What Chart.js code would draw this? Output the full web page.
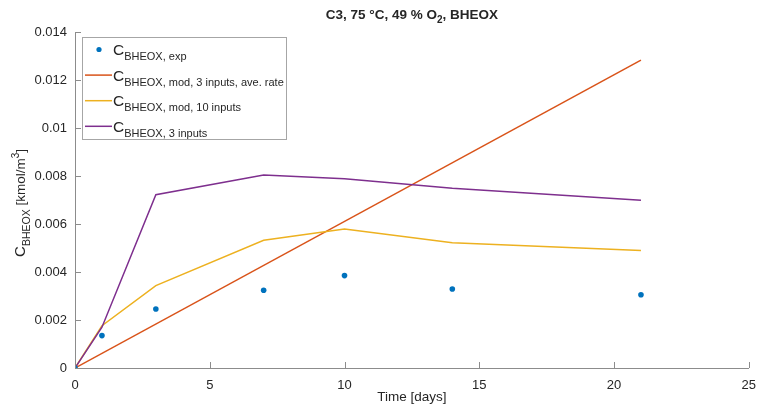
<!DOCTYPE html>
<html>
<head>
<meta charset="utf-8">
<title>BHEOX concentration</title>
<script src="https://cdn.jsdelivr.net/npm/chart.js@4.4.1/dist/chart.umd.min.js"></script>
<style>
  html, body { margin: 0; padding: 0; background: #fff; }
  #wrap { width: 758px; height: 412px; }
</style>
</head>
<body>
<div id="wrap"><canvas id="chart" width="758" height="412"></canvas></div>
<script>
// sampling days
const days = [0, 1, 3, 7, 10, 14, 21];

// measured concentration [kmol/m3]
const expValues = [0, 0.00135, 0.00246, 0.00324, 0.00385, 0.00329, 0.00305];

// model with average rate (straight line)
const aveRateDays = [0, 21];
const aveRateValues = [0, 0.01283];

// model, 10 inputs
const tenInputValues = [0, 0.00176, 0.00343, 0.00532, 0.00579, 0.00522, 0.0049];

// 3 inputs
const threeInputValues = [0, 0.0017, 0.00722, 0.00804, 0.00789, 0.00749, 0.00699];

const xTicks = [0, 5, 10, 15, 20, 25];
const yTicks = [0, 0.002, 0.004, 0.006, 0.008, 0.01, 0.012, 0.014];

const FONT = '"Liberation Sans", Arial, Helvetica, sans-serif';
const TEXT = '#262626';
const AXIS = '#8c8c8c';

const BLUE = '#0072BD';
const ORANGE = '#D95319';
const YELLOW = '#EDB120';
const PURPLE = '#7E2F8E';

function xy(xs, ys) {
  return xs.map((x, i) => ({ x: x, y: ys[i] }));
}

// text made of pieces, some lowered (subscript) or raised (superscript)
function runsWidth(ctx, runs) {
  let w = 0;
  runs.forEach(r => {
    ctx.font = (r.bold ? 'bold ' : '') + r.size + 'px ' + FONT;
    w += ctx.measureText(r.text).width;
  });
  return w;
}

function drawRuns(ctx, runs, x, y) {
  ctx.textAlign = 'left';
  ctx.textBaseline = 'alphabetic';
  runs.forEach(r => {
    ctx.font = (r.bold ? 'bold ' : '') + r.size + 'px ' + FONT;
    ctx.fillText(r.text, x, y + (r.dy || 0));
    x += ctx.measureText(r.text).width;
  });
  return x;
}

const legendItems = [
  { kind: 'dot', color: BLUE, label: 'BHEOX, exp' },
  { kind: 'line', color: ORANGE, label: 'BHEOX, mod, 3 inputs, ave. rate' },
  { kind: 'line', color: YELLOW, label: 'BHEOX, mod, 10 inputs' },
  { kind: 'line', color: PURPLE, label: 'BHEOX, 3 inputs' }
];

const decorations = {
  id: 'decorations',
  afterDraw(chart) {
    const ctx = chart.ctx;
    const area = chart.chartArea;
    const xs = chart.scales.x;
    const ys = chart.scales.y;
    ctx.save();

    // inward tick marks
    ctx.strokeStyle = AXIS;
    ctx.lineWidth = 1;
    ctx.beginPath();
    xTicks.forEach(v => {
      const px = Math.round(xs.getPixelForValue(v)) + 0.5;
      ctx.moveTo(px, area.bottom);
      ctx.lineTo(px, area.bottom - 6);
    });
    yTicks.forEach(v => {
      const py = Math.round(ys.getPixelForValue(v)) + 0.5;
      ctx.moveTo(area.left, py);
      ctx.lineTo(area.left + 6, py);
    });
    ctx.stroke();

    const cx = (area.left + area.right) / 2;
    ctx.fillStyle = TEXT;

    // title
    const title = [
      { text: 'C3, 75 \u00B0C, 49 % O', size: 13.5, bold: true },
      { text: '2', size: 10, bold: true, dy: 4 },
      { text: ', BHEOX', size: 13.5, bold: true }
    ];
    drawRuns(ctx, title, cx - runsWidth(ctx, title) / 2, 19);

    // x axis title
    const xt = [{ text: 'Time [days]', size: 13.5 }];
    drawRuns(ctx, xt, cx - runsWidth(ctx, xt) / 2, 401);

    // y axis title, rotated
    const yt = [
      { text: 'C', size: 15 },
      { text: 'BHEOX', size: 10.5, dy: 5 },
      { text: ' [kmol/m', size: 13.5 },
      { text: '3', size: 10, dy: -6 },
      { text: ']', size: 13.5 }
    ];
    ctx.save();
    ctx.translate(25, (area.top + area.bottom) / 2 + 3);
    ctx.rotate(-Math.PI / 2);
    drawRuns(ctx, yt, -runsWidth(ctx, yt) / 2, 0);
    ctx.restore();

    // legend box
    const box = { left: 82.5, top: 37.5, right: 286.5, bottom: 139.5 };
    ctx.fillStyle = '#ffffff';
    ctx.fillRect(box.left, box.top, box.right - box.left, box.bottom - box.top);
    ctx.strokeStyle = '#a6a6a6';
    ctx.lineWidth = 1;
    ctx.strokeRect(box.left, box.top, box.right - box.left, box.bottom - box.top);

    legendItems.forEach((item, i) => {
      const ry = 49.5 + i * 25.6;
      if (item.kind === 'dot') {
        ctx.fillStyle = item.color;
        ctx.beginPath();
        ctx.arc(99, ry, 2.6, 0, Math.PI * 2);
        ctx.fill();
      } else {
        ctx.strokeStyle = item.color;
        ctx.lineWidth = 1.5;
        ctx.beginPath();
        ctx.moveTo(85, ry);
        ctx.lineTo(112, ry);
        ctx.stroke();
      }
      ctx.fillStyle = TEXT;
      drawRuns(ctx, [
        { text: 'C', size: 15.5 },
        { text: item.label, size: 11, dy: 5 }
      ], 113, ry + 5.5);
    });

    ctx.restore();
  }
};

const lineStyle = {
  type: 'line',
  showLine: true,
  borderWidth: 1.5,
  pointRadius: 0,
  pointHoverRadius: 0,
  fill: false,
  tension: 0
};

new Chart(document.getElementById('chart'), {
  type: 'scatter',
  data: {
    datasets: [
      {
        label: 'exp',
        data: xy(days, expValues),
        backgroundColor: BLUE,
        borderColor: BLUE,
        pointRadius: 2.8,
        pointBorderWidth: 0,
        order: 0
      },
      Object.assign({}, lineStyle, {
        label: 'mod, 3 inputs, ave. rate',
        data: xy(aveRateDays, aveRateValues),
        borderColor: ORANGE,
        order: 3
      }),
      Object.assign({}, lineStyle, {
        label: 'mod, 10 inputs',
        data: xy(days, tenInputValues),
        borderColor: YELLOW,
        order: 2
      }),
      Object.assign({}, lineStyle, {
        label: '3 inputs',
        data: xy(days, threeInputValues),
        borderColor: PURPLE,
        order: 1
      })
    ]
  },
  options: {
    responsive: false,
    animation: false,
    devicePixelRatio: 1,
    layout: { padding: { top: 32, right: 0, left: 0, bottom: 0 } },
    plugins: {
      legend: { display: false },
      title: { display: false },
      tooltip: { enabled: false }
    },
    scales: {
      x: {
        type: 'linear',
        min: 0,
        max: 25,
        afterFit: s => { s.height = 44; },
        afterBuildTicks: s => { s.ticks = xTicks.map(v => ({ value: v })); },
        grid: { display: false },
        border: { display: true, color: AXIS, width: 1 },
        ticks: {
          color: TEXT,
          padding: 2,
          font: { family: FONT, size: 13 },
          callback: v => String(v)
        }
      },
      y: {
        min: 0,
        max: 0.014,
        afterFit: s => { s.width = 75; },
        afterBuildTicks: s => { s.ticks = yTicks.map(v => ({ value: v })); },
        grid: { display: false },
        border: { display: true, color: AXIS, width: 1 },
        ticks: {
          color: TEXT,
          padding: 0,
          font: { family: FONT, size: 13 },
          callback: v => String(+v.toFixed(3))
        }
      }
    }
  },
  plugins: [decorations]
});
</script>
</body>
</html>
